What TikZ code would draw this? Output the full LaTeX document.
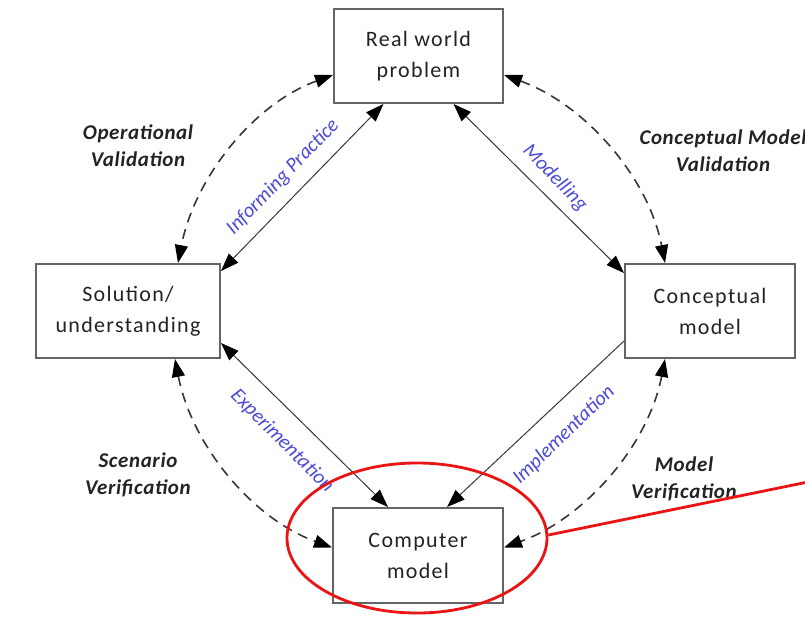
\documentclass[tikz,border=0pt]{standalone}
\usepackage{fontspec}
\setmainfont{Carlito}
\newfontfamily\boxfont[LetterSpace=6]{Carlito}
\newfontfamily\valfont[LetterSpace=3]{Carlito}
\usetikzlibrary{arrows.meta,shapes.geometric}
\definecolor{boxline}{RGB}{100,100,100}
\definecolor{lineg}{RGB}{55,55,55}
\definecolor{txt}{RGB}{35,35,35}
\definecolor{bluel}{RGB}{75,75,215}
\definecolor{redl}{RGB}{235,20,20}
\tikzset{bigtri/.tip={Triangle[length=18pt,width=13pt,color=black]}}
\begin{document}
\begin{tikzpicture}[x=1pt,y=1pt,
  box/.style={draw=boxline,line width=2pt,fill=white,text=txt,align=center,
    font=\boxfont\fontsize{22}{31}\selectfont,inner sep=0pt},
  flow/.style={draw=lineg,line width=1pt},
  dasharc/.style={draw=lineg,line width=1.6pt,dash pattern=on 10pt off 7pt,bigtri-bigtri,looseness=0.9},
  val/.style={text=txt,align=center,font=\valfont\bfseries\itshape\fontsize{21}{27}\selectfont},
  lbl/.style={text=bluel,font=\itshape\fontsize{20.5}{24}\selectfont,inner sep=0pt}
]
\useasboundingbox (0,0) rectangle (805,-618);
\clip (0,0) rectangle (805,-618);
\fill[white] (0,0) rectangle (805,-618);

% boxes
\node[box,minimum width=169pt,minimum height=94pt] (rw) at (418.5,-56) {Real world\\problem};
\node[box,minimum width=184pt,minimum height=94pt] (sol) at (128,-311) {Solution/\\understanding};
\node[box,minimum width=170pt,minimum height=94pt] (con) at (710,-311) {Conceptual\\model};
\node[box,minimum width=170pt,minimum height=95pt] (comp) at (418,-555.5) {Computer\\model};

% solid connectors
\draw[flow,bigtri-bigtri] ([xshift=-35pt]rw.south) -- ([yshift=-8pt]sol.north east);
\draw[flow,bigtri-bigtri] ([xshift=35pt]rw.south) -- ([yshift=-10pt]con.north west);
\draw[flow,bigtri-bigtri] ([yshift=16pt]sol.south east) -- ([xshift=-30pt]comp.north);
\draw[flow,-bigtri] ([yshift=18pt]con.south west) -- ([xshift=29pt]comp.north);

% dashed arcs
\draw[dasharc] ([yshift=-19pt]rw.west) to[out=200,in=79] ([xshift=50pt]sol.north);
\draw[dasharc] ([yshift=-19pt]rw.east) to[out=-20,in=101] ([xshift=-45pt]con.north);
\draw[dasharc] ([xshift=47pt]sol.south) to[out=281,in=160] ([yshift=8pt]comp.west);
\draw[dasharc] ([xshift=-45pt]con.south) to[out=259,in=20] ([yshift=8pt]comp.east);

% flow labels
\node[lbl,rotate=46] (lip) at (283,-177) {Informing Practice};
\node[lbl,rotate=-46] (lmo) at (555,-178) {Modelling};
\node[lbl,rotate=-45] (lex) at (282,-441) {Experimentation};
\node[lbl,rotate=44] (lim) at (564,-435) {Implementation};

% validation labels
\node[val] (ov) at (138,-146) {Operational\\Validation};
\node[val] (cv) at (723,-151) {Conceptual Model\\Validation};
\node[val] (sv) at (138,-475) {Scenario\\Verification};
\node[val] (mv) at (684,-479) {Model\\Verification};

% red highlight
\node[ellipse,draw=redl,line width=2.8pt,minimum width=260pt,minimum height=150pt,inner sep=0pt] (hl) at (417,-538) {};
\coordinate (redend) at (830,-477.5);
\draw[redl,line width=2.8pt] ([yshift=3pt]hl.east) -- (redend);
\end{tikzpicture}
\end{document}
